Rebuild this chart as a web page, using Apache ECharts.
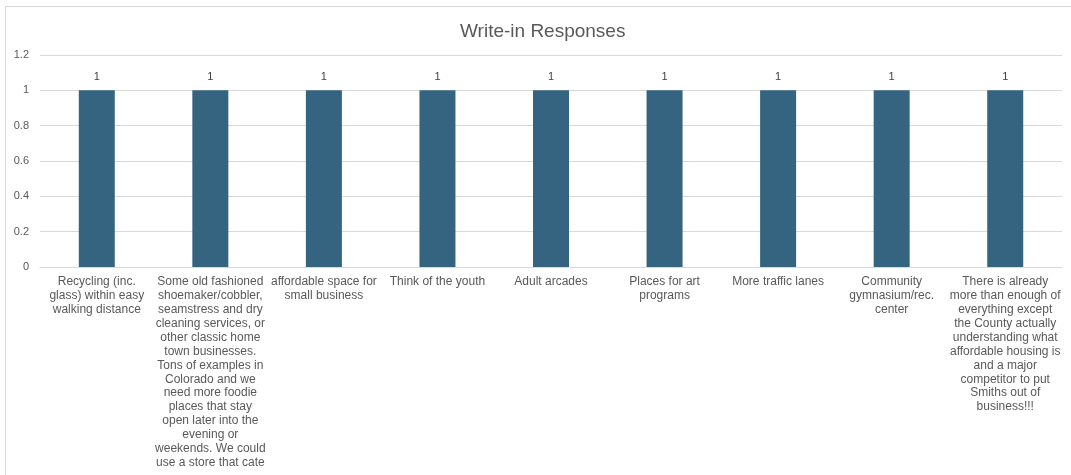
<!DOCTYPE html>
<html>
<head>
<meta charset="utf-8">
<script src="https://cdn.jsdelivr.net/npm/echarts@6/dist/echarts.min.js"></script>
<style>
    html, body { margin: 0; padding: 0; background: #fff; }
    #frame {
        position: absolute; left: 5px; top: 6px; width: 1100px; height: 500px;
        border: 1px solid #d9d9d9; box-sizing: border-box;
    }
    #chart { position: absolute; left: 0; top: 0; width: 1071px; height: 475px; }
</style>
</head>
<body>
<div id="frame"></div>
<div id="chart"></div>
<script>
// categories (wrapped the way the original shows them)
var categories = [
    'Recycling (inc.\nglass) within easy\nwalking distance',
    'Some old fashioned\nshoemaker/cobbler,\nseamstress and dry\ncleaning services, or\nother classic home\ntown businesses.\nTons of examples in\nColorado and we\nneed more foodie\nplaces that stay\nopen later into the\nevening or\nweekends. We could\nuse a store that cate',
    'affordable space for\nsmall business',
    'Think of the youth',
    'Adult arcades',
    'Places for art\nprograms',
    'More traffic lanes',
    'Community\ngymnasium/rec.\ncenter',
    'There is already\nmore than enough of\neverything except\nthe County actually\nunderstanding what\naffordable housing is\nand a major\ncompetitor to put\nSmiths out of\nbusiness!!!'
];
var counts = [1, 1, 1, 1, 1, 1, 1, 1, 1];
var yMax = 1.2;
var yStep = 0.2;

var chart = echarts.init(document.getElementById('chart'));
var option = {
    animation: false,
    textStyle: { fontFamily: 'Liberation Sans, Arial, sans-serif' },
    title: {
        text: 'Write-in Responses',
        left: 455,
        top: 17,
        textStyle: { color: '#595959', fontSize: 19, fontWeight: 'normal' }
    },
    grid: { left: 40, right: 9, top: 55, bottom: 208 },
    xAxis: {
        type: 'category',
        data: categories,
        axisLine: { lineStyle: { color: '#d9d9d9' } },
        axisTick: { show: false },
        axisLabel: {
            interval: 0,
            color: '#595959',
            fontSize: 12,
            lineHeight: 13.9,
            margin: 8,
            verticalAlign: 'top'
        }
    },
    yAxis: {
        type: 'value',
        min: 0,
        max: yMax,
        interval: yStep,
        axisLine: { show: false },
        axisTick: { show: false },
        splitLine: { lineStyle: { color: '#d9d9d9' } },
        axisLabel: {
            color: '#595959',
            fontSize: 11,
            margin: 11,
            formatter: function (v) { return String(Math.round(v * 10) / 10); }
        }
    },
    series: [{
        type: 'bar',
        data: counts,
        barWidth: 36,
        itemStyle: { color: '#356480' },
        label: {
            show: true,
            position: 'top',
            distance: 8,
            color: '#404040',
            fontSize: 11
        }
    }]
};
chart.setOption(option);
</script>
</body>
</html>
